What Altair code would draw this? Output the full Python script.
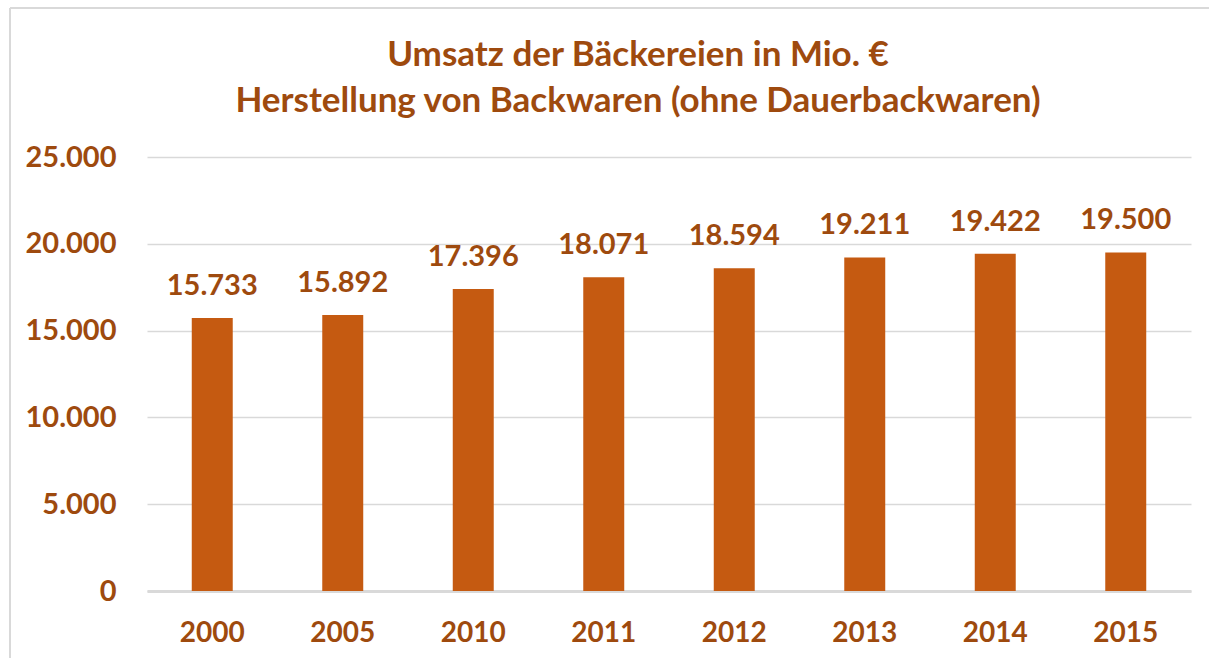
import altair as alt
import pandas as pd

years = ["2000", "2005", "2010", "2011", "2012", "2013", "2014", "2015"]
umsatz = [15733, 15892, 17396, 18071, 18594, 19211, 19422, 19500]
title_lines = ["Umsatz der Bäckereien in Mio. €", "Herstellung von Backwaren (ohne Dauerbackwaren)"]

df = pd.DataFrame({"Jahr": years, "Umsatz": umsatz})
df["Label"] = [f"{v:,}".replace(",", ".") for v in umsatz]

TXT = "#9E4A0E"
BAR = "#C55A11"
GRID = "#D9D9D9"
FONT = "Lato"

x = alt.X(
    "Jahr:N",
    sort=years,
    title=None,
    scale=alt.Scale(paddingInner=0.686, paddingOuter=0.343),
    axis=alt.Axis(
        labelAngle=0,
        labelFont=FONT,
        labelFontSize=28,
        labelFontWeight="bold",
        labelColor=TXT,
        labelPadding=28,
        ticks=False,
        grid=False,
        domainColor=GRID,
        domainWidth=3,
    ),
)
y = alt.Y(
    "Umsatz:Q",
    title=None,
    scale=alt.Scale(domain=[0, 25000], nice=False),
    axis=alt.Axis(
        values=[0, 5000, 10000, 15000, 20000, 25000],
        labelExpr="replace(format(datum.value, ','), ',', '.')",
        labelFont=FONT,
        labelFontSize=29,
        labelFontWeight="bold",
        labelColor=TXT,
        labelPadding=31,
        ticks=False,
        domain=False,
        gridColor=GRID,
        gridWidth=1.5,
    ),
)

base = alt.Chart(df)
bars = base.mark_bar(color=BAR).encode(x=x, y=y)
labels = base.mark_text(
    font=FONT, fontSize=29, fontWeight="bold", color=TXT, baseline="alphabetic", dy=-23
).encode(x=x, y=y, text="Label:N")

t1 = alt.Chart(pd.DataFrame({"t": [title_lines[0]]})).mark_text(
    font=FONT, fontSize=35, fontWeight="bold", color=TXT, baseline="alphabetic", align="center"
).encode(x=alt.value(491), y=alt.value(-91), text="t:N")
t2 = alt.Chart(pd.DataFrame({"t": [title_lines[1]]})).mark_text(
    font=FONT, fontSize=35, fontWeight="bold", color=TXT, baseline="alphabetic", align="center"
).encode(x=alt.value(491), y=alt.value(-45), text="t:N")

frame_left = base.mark_rule(color=GRID, strokeWidth=2).encode(
    x=alt.value(-137), y=alt.value(-149), y2=alt.value(520)
)
frame_top = base.mark_rule(color=GRID, strokeWidth=2).encode(
    x=alt.value(-137), x2=alt.value(1080), y=alt.value(-149)
)

chart = (
    alt.layer(frame_left, frame_top, bars, labels, t1, t2)
    .properties(
        width=1044,
        height=434,
        autosize=alt.AutoSizeParams(type="none"),
        padding={"left": 147, "top": 157, "right": 18, "bottom": 67},
        view=alt.ViewBackground(stroke="transparent", strokeWidth=0),
    )
    .configure_view(stroke="transparent", strokeWidth=0)
    .configure_axisY(domain=False)
    .configure(background="white")
)

chart.save("out.html", embed_options={"renderer": "svg", "actions": False})
